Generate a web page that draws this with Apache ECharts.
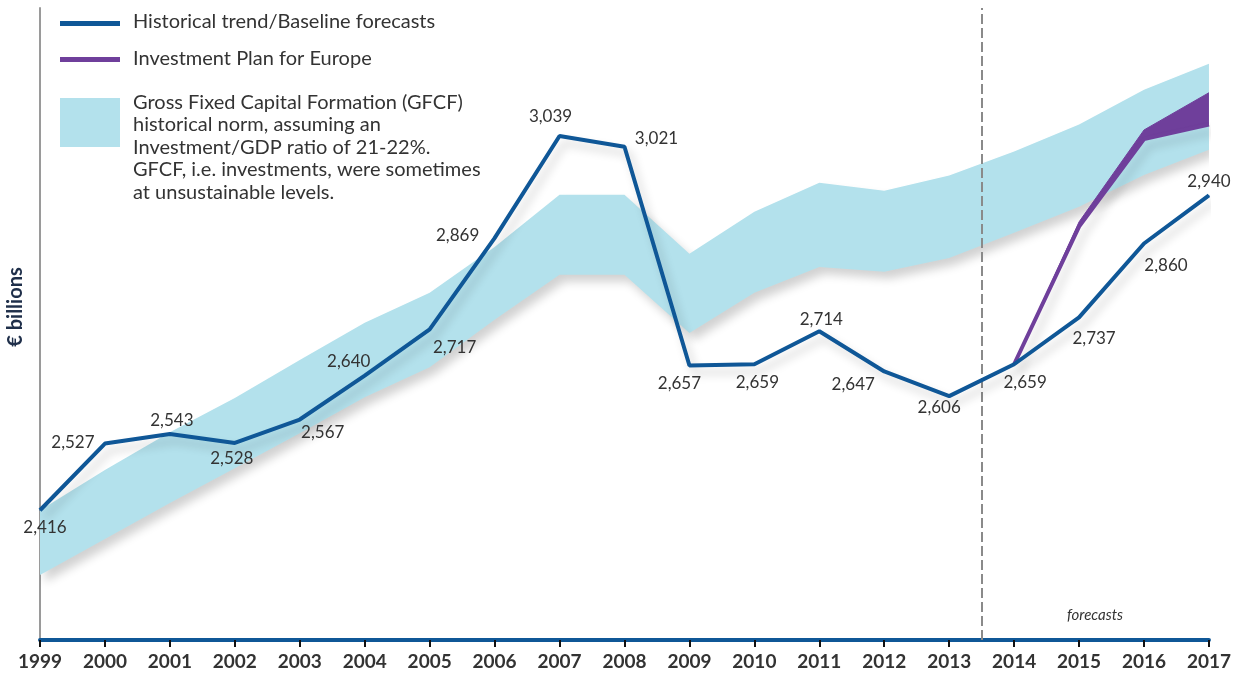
<!DOCTYPE html>
<html>
<head>
<meta charset="utf-8">
<script src="https://cdn.jsdelivr.net/npm/echarts@6/dist/echarts.min.js"></script>
<style>
  html, body { margin: 0; padding: 0; background: #fff; }
  #chart { width: 1234px; height: 673px; }
</style>
</head>
<body>
<div id="chart"></div>
<script>
// values (€ billions)
const years = ['1999', '2000', '2001', '2002', '2003', '2004', '2005', '2006', '2007', '2008', '2009', '2010', '2011', '2012', '2013', '2014', '2015', '2016', '2017']
const baseline = [2416, 2527, 2543, 2528, 2567, 2640, 2717, 2869, 3039, 3021, 2657, 2659, 2714, 2647, 2606, 2659, 2737, 2860, 2940]
const normLow = [2308, 2368, 2428, 2486, 2544, 2604, 2654, 2733, 2808, 2808, 2711, 2778, 2821, 2813, 2836, 2878, 2921, 2974, 3016]
const normHigh = [2416, 2483, 2546, 2603, 2666, 2728, 2778, 2854, 2941, 2941, 2843, 2913, 2961, 2948, 2973, 3013, 3058, 3116, 3159]
const planYears = ['2014', '2015', '2016', '2017']
const planLow = [2659, 2888, 3034, 3058]
const planHigh = [2659, 2896, 3049, 3111]
const forecastStart = 2013.5

// where each value label sits relative to its point
const labelOffsets = [[5, 17], [-32, -1], [2, -13], [-3, 16], [23, 13], [-16, -14], [25, 18], [-37, -3], [-9, -19], [32, -8],
  [-10, 18], [3, 18], [2, -12], [-31, 13], [-10, 11], [11, 18], [15, 21], [22, 22], [0, -14]]

const BLUE = '#0f5797'
const PURPLE = '#6f3f9b'
const NORM = '#b3e1ec'
const FONT = 'Lato'

// plan series laid on the full year axis, empty before 2014
const planOn = arr => years.map(y => {
  const i = planYears.indexOf(y)
  return i < 0 ? '-' : arr[i]
})
const planLowFull = planOn(planLow)
const planSpreadFull = planOn(planHigh.map((v, i) => v - planLow[i]))

const chart = echarts.init(document.getElementById('chart'))

const shadow = { shadowColor: 'rgba(0,0,0,0.18)', shadowBlur: 10, shadowOffsetX: 5, shadowOffsetY: 7 }

chart.setOption({
  animation: false,
  grid: { left: 40, right: 24, top: 8, bottom: 33 },
  xAxis: [
    {
      type: 'category',
      data: years,
      boundaryGap: false,
      splitLine: { show: false },
      axisLine: { show: true, lineStyle: { color: BLUE, width: 4 } },
      axisTick: { show: true, length: 7, lineStyle: { color: '#111', width: 2 } },
      axisLabel: { color: '#333', fontFamily: FONT, fontSize: 19, fontWeight: 'bold', margin: 12 }
    },
    { type: 'value', min: 1999, max: 2017, show: false }
  ],
  yAxis: {
    type: 'value',
    min: 2200,
    max: 3252,
    splitLine: { show: false },
    axisTick: { show: false },
    axisLabel: { show: false },
    axisLine: { show: true, lineStyle: { color: '#9a9a9a', width: 2 } }
  },
  series: [
    {
      type: 'line', name: 'normBase', stack: 'norm', symbol: 'none', silent: true,
      lineStyle: { width: 0 },
      data: normLow
    },
    {
      type: 'line', name: 'GFCF historical norm', stack: 'norm', symbol: 'none', silent: true,
      lineStyle: { width: 0 },
      areaStyle: Object.assign({ color: NORM, opacity: 1 }, shadow),
      data: normHigh.map((v, i) => v - normLow[i])
    },
    {
      type: 'line', name: 'Investment Plan for Europe', stack: 'plan', symbol: 'none',
      lineStyle: Object.assign({ color: PURPLE, width: 4 }, shadow),
      data: planLowFull
    },
    {
      type: 'line', name: 'planSpread', stack: 'plan', symbol: 'none',
      lineStyle: { color: PURPLE, width: 1 },
      areaStyle: { color: PURPLE, opacity: 1 },
      data: planSpreadFull
    },
    {
      type: 'line', name: 'Historical trend/Baseline forecasts', symbol: 'circle', symbolSize: 1,
      itemStyle: { color: BLUE },
      lineStyle: Object.assign({ color: BLUE, width: 4 }, shadow),
      label: {
        show: true, position: 'inside', color: '#333', fontFamily: FONT, fontSize: 17,
        formatter: p => p.value.toLocaleString('en-US')
      },
      data: baseline.map((v, i) => ({ value: v, label: { offset: labelOffsets[i] } })),
      z: 5
    },
    {
      type: 'line', name: 'forecastDivider', xAxisIndex: 1, data: [], silent: true,
      markLine: {
        silent: true, symbol: 'none', label: { show: false },
        lineStyle: { color: '#8a8a8a', width: 2, type: [10, 4] },
        data: [{ xAxis: forecastStart }]
      }
    }
  ],
  graphic: [
    { type: 'rect', shape: { x: 60, y: 21, width: 60, height: 5 }, style: { fill: BLUE } },
    { type: 'text', x: 133, y: 22, style: { text: 'Historical trend/Baseline forecasts', fill: '#333', font: '20px Lato', verticalAlign: 'middle' } },
    { type: 'rect', shape: { x: 60, y: 57, width: 60, height: 5 }, style: { fill: PURPLE } },
    { type: 'text', x: 133, y: 59, style: { text: 'Investment Plan for Europe', fill: '#333', font: '20px Lato', verticalAlign: 'middle' } },
    { type: 'rect', shape: { x: 60, y: 98, width: 60, height: 49 }, style: { fill: NORM } },
    {
      type: 'text', x: 133, y: 91,
      style: {
        text: 'Gross Fixed Capital Formation (GFCF)\nhistorical norm, assuming an\nInvestment/GDP ratio of 21-22%.\nGFCF, i.e. investments, were sometimes\nat unsustainable levels.',
        fill: '#333', font: '20px Lato', lineHeight: 22.5, verticalAlign: 'top'
      }
    },
    { type: 'text', x: 16, y: 307, rotation: Math.PI / 2, style: { text: '€ billions', fill: '#1f2f4a', font: 'bold 20px Lato', align: 'center', verticalAlign: 'middle' } },
    { type: 'text', x: 1095, y: 615, style: { text: 'forecasts', fill: '#333', font: 'italic 15px Lato', align: 'center', verticalAlign: 'middle' } }
  ]
})
</script>
</body>
</html>
